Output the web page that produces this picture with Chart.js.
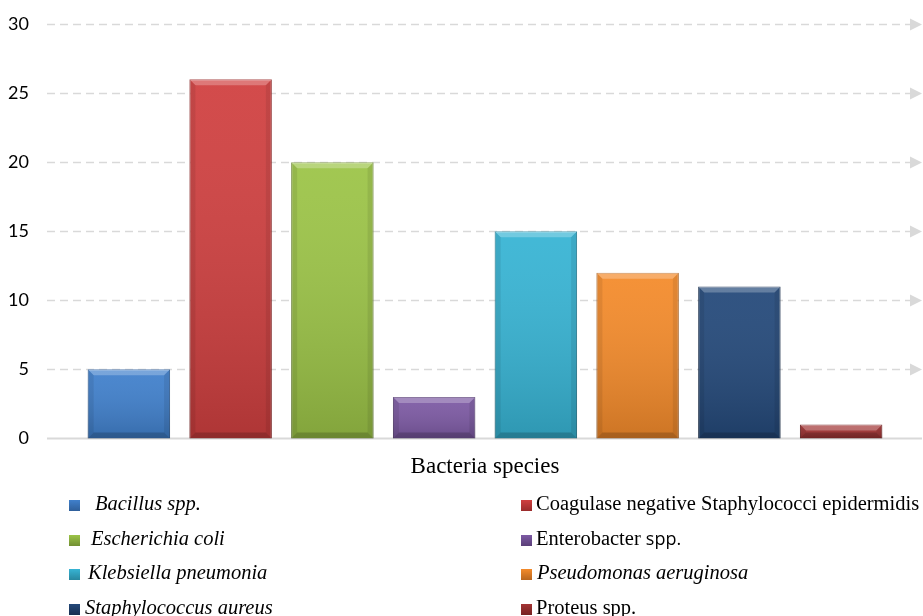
<!DOCTYPE html>
<html lang="en">
<head>
  <meta charset="UTF-8">
  <title>Bacteria species</title>
  <script src="https://cdn.jsdelivr.net/npm/chart.js"></script>
  <style>
    body {
      margin: 0;
      background: white;
    }
    #wrap {
      position: relative;
      width: 923px;
      height: 616px;
    }
    #legenda {
      position: absolute;
      left: 0;
      top: 486px;
      width: 923px;
      font-family: "Liberation Serif", serif;
      font-size: 20.5px;
      color: #000;
    }
    .item {
      position: absolute;
      height: 34px;
      line-height: 34px;
      white-space: nowrap;
    }
    .item .box {
      display: inline-block;
      width: 11px;
      height: 11px;
      margin-right: 4px;
      vertical-align: -1px;
    }
    .sans {
      font-family: "Open Sans", sans-serif;
      font-size: 18px;
    }
  </style>
</head>
<body>
  <div id="wrap">
    <canvas id="grafico" width="923" height="616"></canvas>
    <div id="legenda"></div>
  </div>

  <script>
    // dados
    const especies = [
      'Bacillus spp.',
      'Coagulase negative Staphylococci epidermidis',
      'Escherichia coli',
      'Enterobacter spp.',
      'Klebsiella pneumonia',
      'Pseudomonas aeruginosa',
      'Staphylococcus aureus',
      'Proteus spp.'
    ];
    const valores = [5, 26, 20, 3, 15, 12, 11, 1];
    const cores = ['#4080cc', '#d04040', '#9cc447', '#7d5aa4', '#37b4d4', '#f48b2b', '#24497a', '#a33333'];
    const bordas = ['#2f5f9a', '#9a2c2c', '#728f33', '#5a3f78', '#28879f', '#b8661f', '#172f50', '#762222'];
    const yTicks = [0, 5, 10, 15, 20, 25, 30];

    // linhas tracejadas com seta, e a linha do zero
    const gradeSetas = {
      id: 'gradeSetas',
      beforeDatasetsDraw(chart) {
        const ctx = chart.ctx;
        const y = chart.scales.y;
        const x0 = 47, x1 = 910, x2 = 922;
        ctx.save();
        yTicks.forEach((v) => {
          const py = Math.round(y.getPixelForValue(v)) + 0.5;
          if (v === 0) {
            ctx.setLineDash([]);
            ctx.strokeStyle = '#d9d9d9';
            ctx.lineWidth = 2;
            ctx.beginPath();
            ctx.moveTo(x0, py);
            ctx.lineTo(x2, py);
            ctx.stroke();
            return;
          }
          ctx.setLineDash([8, 5]);
          ctx.strokeStyle = '#d9d9d9';
          ctx.lineWidth = 1.5;
          ctx.beginPath();
          ctx.moveTo(x0, py);
          ctx.lineTo(x1, py);
          ctx.stroke();
          ctx.fillStyle = '#d9d9d9';
          ctx.beginPath();
          ctx.moveTo(x1, py - 6);
          ctx.lineTo(x2, py);
          ctx.lineTo(x1, py + 6);
          ctx.closePath();
          ctx.fill();
        });
        ctx.restore();
      }
    };

    // efeito de bisel nas barras
    const bisel = {
      id: 'bisel',
      afterDatasetsDraw(chart) {
        const ctx = chart.ctx;
        const meta = chart.getDatasetMeta(0);
        ctx.save();
        meta.data.forEach((bar) => {
          const l = bar.x - bar.width / 2, r = bar.x + bar.width / 2;
          const t = bar.y, b = bar.base;
          const h = b - t;
          const s = Math.min(6, h / 2);
          const g = ctx.createLinearGradient(0, t, 0, b);
          g.addColorStop(0, 'rgba(255,255,255,0.06)');
          g.addColorStop(1, 'rgba(0,0,0,0.16)');
          ctx.fillStyle = g;
          ctx.fillRect(l, t, r - l, h);
          // topo claro
          ctx.fillStyle = 'rgba(255,255,255,0.25)';
          ctx.beginPath();
          ctx.moveTo(l, t); ctx.lineTo(r, t); ctx.lineTo(r - s, t + s); ctx.lineTo(l + s, t + s);
          ctx.closePath(); ctx.fill();
          // laterais
          ctx.fillStyle = 'rgba(0,0,0,0.08)';
          ctx.beginPath();
          ctx.moveTo(l, t); ctx.lineTo(l + s, t + s); ctx.lineTo(l + s, b - s); ctx.lineTo(l, b);
          ctx.closePath(); ctx.fill();
          ctx.beginPath();
          ctx.moveTo(r, t); ctx.lineTo(r - s, t + s); ctx.lineTo(r - s, b - s); ctx.lineTo(r, b);
          ctx.closePath(); ctx.fill();
          // base escura
          ctx.fillStyle = 'rgba(0,0,0,0.18)';
          ctx.beginPath();
          ctx.moveTo(l, b); ctx.lineTo(r, b); ctx.lineTo(r - s, b - s); ctx.lineTo(l + s, b - s);
          ctx.closePath(); ctx.fill();
        });
        ctx.restore();
      }
    };

    function montarLegenda() {
      const leg = document.getElementById('legenda');
      // texto com partes em italico, como no original
      const textos = [
        '<i>Bacillus spp.</i>',
        'Coagulase negative Staphylococci epidermidis',
        '<i>Escherichia coli</i>',
        'Enterobacter <span class="sans">spp.</span>',
        '<i>Klebsiella pneumonia</i>',
        '<i>Pseudomonas aeruginosa</i>',
        '<i>Staphylococcus aureus</i>',
        'Proteus spp.'
      ];
      const recuo = [11, 0, 7, 0, 4, 1, 1, 0];
      textos.forEach((txt, i) => {
        const col = i % 2;
        const row = Math.floor(i / 2);
        const div = document.createElement('div');
        div.className = 'item';
        div.style.left = (col === 0 ? 69 : 521) + 'px';
        div.style.top = (row * 34.5) + 'px';
        div.innerHTML = '<span class="box" style="margin-right:' + (4 + recuo[i]) + 'px;background:linear-gradient(' +
          cores[i] + ',' + bordas[i] + ');"></span>' + txt;
        leg.appendChild(div);
      });
    }

    function gerarGrafico() {
      const ctx = document.getElementById('grafico').getContext('2d');
      new Chart(ctx, {
        type: 'bar',
        data: {
          labels: especies,
          datasets: [{
            data: valores,
            backgroundColor: cores,
            borderColor: bordas,
            borderWidth: 1,
            barPercentage: 0.81,
            categoryPercentage: 1
          }]
        },
        options: {
          responsive: false,
          animation: false,
          layout: {
            padding: { left: 8, right: 31, top: 24, bottom: 135 }
          },
          plugins: {
            legend: { display: false },
            tooltip: { enabled: false }
          },
          scales: {
            x: {
              grid: { display: false, drawTicks: false },
              border: { display: false },
              ticks: { display: false },
              title: {
                display: true,
                text: 'Bacteria species',
                color: '#000',
                font: { family: 'Liberation Serif', size: 23 },
                padding: { top: 15, bottom: 0 }
              }
            },
            y: {
              min: 0,
              max: 30,
              grid: { display: false, drawTicks: true, tickLength: 40 },
              border: { display: false },
              afterFit(scale) { scale.width = 70; },
              ticks: {
                stepSize: 5,
                color: '#000',
                padding: 9,
                font: { family: 'Lato', size: 18 }
              }
            }
          }
        },
        plugins: [gradeSetas, bisel]
      });
    }

    montarLegenda();
    gerarGrafico();
  </script>
</body>
</html>
